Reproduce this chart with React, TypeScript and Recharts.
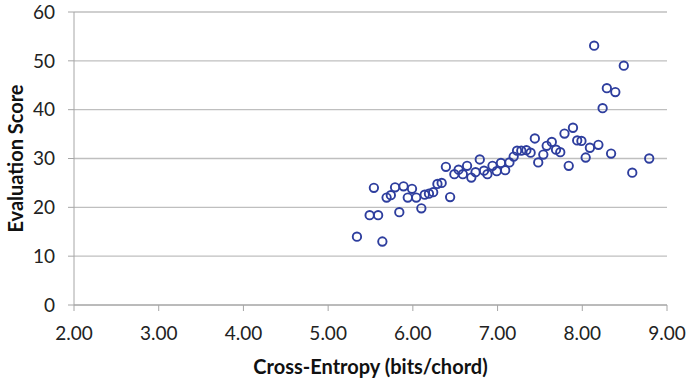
import { CartesianGrid, Scatter, ScatterChart, XAxis, YAxis } from "recharts";

// Cross-entropy (bits/chord) per model, paired by index with its evaluation score.
const crossEntropy = [
  5.34, 5.49, 5.54, 5.59, 5.64, 5.69, 5.74, 5.79, 5.84, 5.89,
  5.94, 5.99, 6.04, 6.1, 6.14, 6.19, 6.24, 6.29, 6.34, 6.39,
  6.44, 6.49, 6.54, 6.59, 6.64, 6.69, 6.74, 6.79, 6.84, 6.88,
  6.94, 6.99, 7.04, 7.09, 7.14, 7.19, 7.23, 7.28, 7.34, 7.39,
  7.44, 7.48, 7.54, 7.58, 7.64, 7.69, 7.74, 7.79, 7.84, 7.89,
  7.94, 7.99, 8.04, 8.09, 8.14, 8.19, 8.24, 8.29, 8.34, 8.39,
  8.49, 8.59, 8.79,
];
const evaluationScore = [
  14.0, 18.4, 24.0, 18.4, 13.0, 22.0, 22.5, 24.1, 19.0, 24.3,
  22.0, 23.8, 22.0, 19.8, 22.6, 22.8, 23.1, 24.8, 25.0, 28.3,
  22.1, 26.8, 27.7, 26.8, 28.5, 26.1, 27.2, 29.8, 27.5, 26.8,
  28.5, 27.4, 29.1, 27.6, 29.2, 30.4, 31.6, 31.6, 31.7, 31.2,
  34.1, 29.2, 30.8, 32.6, 33.4, 31.8, 31.3, 35.1, 28.5, 36.3,
  33.7, 33.6, 30.2, 32.2, 53.1, 32.8, 40.3, 44.4, 31.0, 43.6,
  49.0, 27.1, 30.0,
];
const xTicks = [2, 3, 4, 5, 6, 7, 8, 9];
const yTicks = [0, 10, 20, 30, 40, 50, 60];

const points = crossEntropy.map((x, i) => ({ x, y: evaluationScore[i] }));

const FONT = "Lato, 'Open Sans', sans-serif";
const AXIS_GRAY = "#a6a6a6";
const MARKER = "#2e3e9e";

const OpenCircle = (props: { cx?: number; cy?: number }) => (
  <circle cx={props.cx} cy={props.cy} r={4.2} fill="none" stroke={MARKER} strokeWidth={1.9} />
);

export default function App() {
  return (
    <div style={{ position: "absolute", left: 0, top: 0, background: "#fff" }}>
      <ScatterChart width={686} height={380} margin={{ top: 12, right: 19, bottom: 0, left: 24 }}>
        <CartesianGrid vertical={false} stroke="#bfbfbf" strokeWidth={1.3} />
        <XAxis
          type="number"
          dataKey="x"
          domain={[2, 9]}
          ticks={xTicks}
          interval={0}
          tickFormatter={(v: number) => v.toFixed(2)}
          stroke={AXIS_GRAY}
          tickSize={6}
          tickMargin={16}
          height={75}
          tick={{ fill: "#222", fontSize: 19, fontFamily: FONT }}
          label={{
            value: "Cross-Entropy (bits/chord)",
            position: "insideBottom",
            offset: 6,
            fill: "#111",
            fontSize: 20,
            fontWeight: 700,
            fontFamily: FONT,
          }}
        />
        <YAxis
          type="number"
          dataKey="y"
          domain={[0, 60]}
          ticks={yTicks}
          interval={0}
          stroke={AXIS_GRAY}
          tickSize={6}
          tickMargin={13}
          width={50}
          tick={{ fill: "#222", fontSize: 19, fontFamily: FONT }}
          label={{
            value: "Evaluation Score",
            angle: -90,
            position: "insideLeft",
            offset: -8,
            style: { textAnchor: "middle" },
            fill: "#111",
            fontSize: 20,
            fontWeight: 700,
            fontFamily: FONT,
          }}
        />
        <Scatter data={points} shape={OpenCircle} isAnimationActive={false} />
      </ScatterChart>
    </div>
  );
}
